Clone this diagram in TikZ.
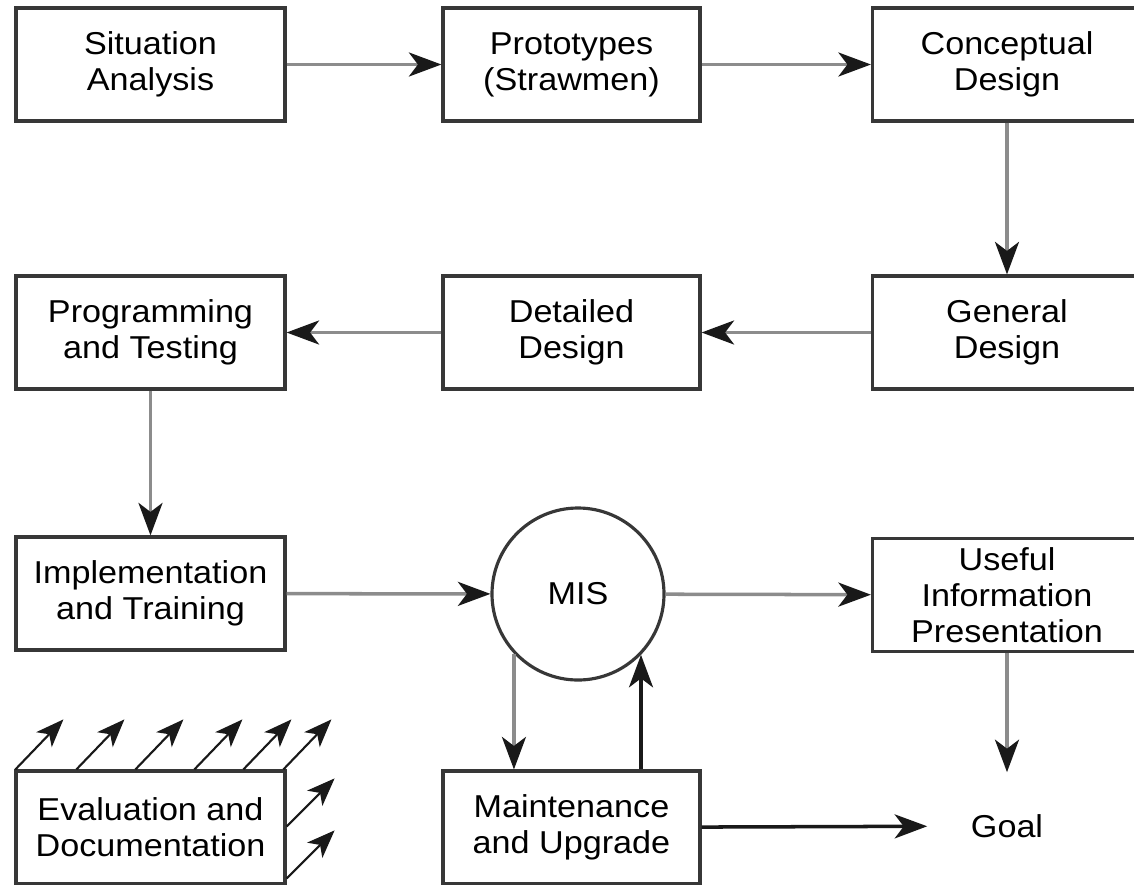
\documentclass[tikz,border=0pt]{standalone}
\usepackage{fontspec}
\setmainfont{Liberation Sans}[FakeStretch=1.08]
\usetikzlibrary{arrows.meta,calc}
\definecolor{FrameGrey}{RGB}{55,55,55}
\definecolor{FlowGrey}{RGB}{140,140,140}
\definecolor{TipBlack}{RGB}{25,25,25}

\begin{document}
\begin{tikzpicture}[x=0.2mm, y=-0.2mm,
    every node/.style={align=center, font=\fontsize{18}{20.5}\selectfont},
    stage/.style={draw=FrameGrey, line width=1.8pt, minimum width=5.38cm, minimum height=2.26cm, inner sep=0pt},
    hub/.style={draw=FrameGrey, circle, line width=1.8pt, minimum size=3.44cm, inner sep=0pt},
    flow/.style={draw=FlowGrey, line width=2pt, -{Stealth[length=6.5mm, width=4.8mm, inset=1.8mm, color=TipBlack]}},
    strong/.style={flow, draw=TipBlack},
    spark/.style={draw=TipBlack, line width=1.2pt, -{Stealth[length=5.6mm, width=4.3mm, inset=1.5mm]}}]
  \useasboundingbox (0,0) rectangle (1134,884);

  % first row
  \node[stage] (sa) at (150.5,64.5) {Situation\\Analysis};
  \node[stage, minimum width=5.14cm] (proto) at (571.5,64.5) {Prototypes\\(Strawmen)};
  \node[stage] (concept) at (1007,64.5) {Conceptual\\Design};

  % second row
  \node[stage] (general) at (1007,332.5) {General\\Design};
  \node[stage, minimum width=5.14cm] (detailed) at (571.5,332.5) {Detailed\\Design};
  \node[stage] (progtest) at (150.5,332.5) {Programming\\and Testing};

  % third row
  \node[stage] (impl) at (150.5,593.5) {Implementation\\and Training};
  \node[hub] (mis) at (578,594) {MIS};
  \node[stage] (useful) at (1007,595) {Useful\\Information\\Presentation};

  % bottom row
  \node[stage] (evaldoc) at (150.5,827.5) {Evaluation and\\Documentation};
  \node[stage, minimum width=5.14cm] (maint) at (571.5,827.5) {Maintenance\\and Upgrade};
  \node (goal) at (1007,826) {Goal};

  % outgoing arrows on the evaluation block
  \foreach \dx in {1,62,121,180,229,269}
    \draw[spark] ($(evaldoc.north west)+(\dx,0)$) -- ++(48,-50);
  \foreach \dy in {57,109}
    \draw[spark] ($(evaldoc.north east)+(0,\dy)$) -- ++(48,-48);

  % main flow
  \draw[flow] (sa) -- (proto);
  \draw[flow] (proto) -- (concept);
  \draw[flow] (concept) -- (general);
  \draw[flow] (general) -- (detailed);
  \draw[flow] (detailed) -- (progtest);
  \draw[flow] (progtest) -- (impl);
  \draw[flow] (impl) -- (mis);
  \draw[flow] (mis) -- (useful);
  \draw[flow, shorten >=0.72cm] (useful) -- (goal);

  % maintenance loop
  \draw[flow] (mis.-137) -- (mis.-137 |- maint.north);
  \draw[strong] (mis.-44 |- maint.north) -- (mis.-44);
  \draw[strong, shorten >=0.75cm] (maint) -- (goal);
\end{tikzpicture}
\end{document}
